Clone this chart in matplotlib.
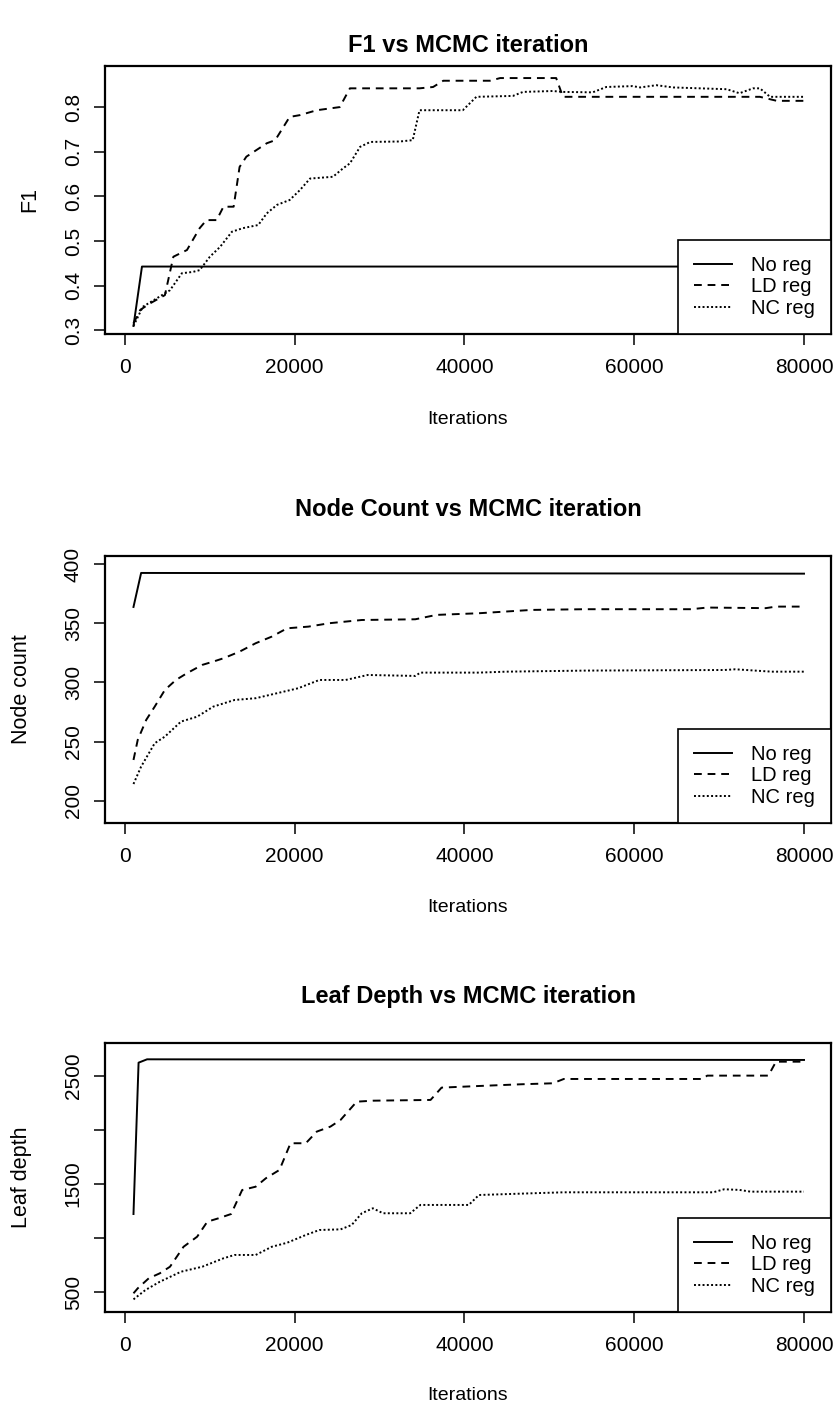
import matplotlib
matplotlib.use('Agg')
import matplotlib.pyplot as plt

plt.rcParams['font.family'] = ['Liberation Sans', 'DejaVu Sans']

# F1 vs iteration
f1_noreg_x = [1000, 2000, 80000]
f1_noreg_y = [0.31, 0.443, 0.443]
f1_ld_x = [1000, 1800, 2900, 4700, 5700, 7300, 8800, 9600, 10800, 11600, 12800, 13500, 14300,
           15500, 16700, 17700, 19400, 20600, 22600, 25300, 26500, 28500, 34700, 36300, 37500,
           43000, 44200, 50800, 51600, 74800, 76800, 80000]
f1_ld_y = [0.316, 0.346, 0.360, 0.379, 0.465, 0.480, 0.529, 0.547, 0.547, 0.577, 0.577, 0.666, 0.689,
           0.704, 0.719, 0.726, 0.778, 0.782, 0.793, 0.800, 0.842, 0.842, 0.842, 0.845, 0.859,
           0.859, 0.865, 0.865, 0.823, 0.823, 0.814, 0.814]
f1_nc_x = [1000, 2100, 4100, 5300, 6700, 8000, 8800, 10000, 11200, 12600, 13900, 15700, 16700,
           17900, 19400, 20600, 21800, 24500, 25700, 26500, 27700, 28900, 32400, 33900, 34700,
           39800, 41400, 45700, 46900, 50400, 51600, 55100, 56700, 59800, 60700, 62600, 64600,
           70900, 72400, 74000, 74800, 76000, 80000]
f1_nc_y = [0.31, 0.353, 0.376, 0.39, 0.428, 0.431, 0.435, 0.465, 0.487, 0.521, 0.529, 0.536, 0.562,
           0.581, 0.592, 0.614, 0.64, 0.644, 0.663, 0.674, 0.711, 0.722, 0.723, 0.726, 0.793,
           0.793, 0.823, 0.825, 0.834, 0.836, 0.834, 0.833, 0.845, 0.847, 0.844, 0.849, 0.844,
           0.84, 0.831, 0.842, 0.842, 0.823, 0.823]

# Node count vs iteration
nodes_noreg_x = [1000, 1900, 80000]
nodes_noreg_y = [363.7, 392.4, 391.8]
nodes_ld_x = [1000, 1500, 2500, 3500, 4700, 6000, 7300, 9100, 10400, 11600, 13500, 15400, 17300,
              19100, 21600, 24100, 27900, 34200, 36700, 41700, 47900, 54200, 66700, 68600, 75500,
              76700, 80000]
nodes_ld_y = [234.6, 251.5, 268.4, 279.6, 293.7, 302.1, 307.8, 314.8, 317.6, 320.4, 326, 333.1, 338.7,
              345.7, 347.1, 350, 352.7, 353.3, 357, 358.4, 361.2, 361.8, 361.8, 363.2, 362.7,
              364, 364]
nodes_nc_x = [1000, 1900, 3500, 4700, 6600, 8500, 10400, 12900, 15400, 17900, 20400, 22900, 26000,
              28600, 34200, 34800, 41700, 44900, 54200, 70600, 71900, 76200, 80000]
nodes_nc_y = [214.3, 229, 248.7, 254.3, 267, 271.1, 279.6, 285.2, 286.7, 290.9, 295.1, 302.1, 302.1,
              306.3, 305.5, 308.3, 308.3, 309.1, 310, 310.5, 311.1, 309.1, 309.1]

# Leaf depth vs iteration
depth_noreg_x = [1000, 1600, 2600, 80000]
depth_noreg_y = [1222, 2623, 2654, 2648]
depth_ld_x = [1000, 1500, 2800, 4100, 5300, 6900, 8500, 9700, 11000, 12500, 13800, 15400, 16600,
              18200, 19500, 21300, 22600, 24200, 25400, 27300, 29200, 36000, 37300, 41700, 46700,
              50400, 51700, 68000, 68600, 75800, 76700, 80000]
depth_ld_y = [488, 534, 627, 673, 734, 919, 1012, 1151, 1182, 1222, 1444, 1475, 1553,
              1630, 1877, 1877, 1985, 2031, 2093, 2262, 2271, 2278, 2392, 2407, 2423,
              2432, 2472, 2472, 2503, 2503, 2632, 2632]
depth_nc_x = [1000, 2400, 4100, 6600, 9100, 11600, 12900, 15400, 17300, 19100, 21300, 22900, 25400,
              26700, 27900, 29200, 30400, 33600, 34800, 40500, 41700, 48000, 51700, 69300, 70600,
              72400, 73700, 80000]
depth_nc_y = [432, 518, 595, 688, 734, 812, 843, 843, 919, 956, 1028, 1074, 1080,
              1120, 1229, 1275, 1229, 1229, 1306, 1306, 1398, 1414, 1423, 1423, 1451,
              1445, 1429, 1429]

labels = ['No reg', 'LD reg', 'NC reg']
x_ticks = [0, 20000, 40000, 60000, 80000]

W, H = 835, 1408
fig = plt.figure(figsize=(W / 100, H / 100), dpi=100)

panels = [
    dict(title='F1 vs MCMC iteration', ylabel='F1', top=66, bottom=334, title_y=46, xlab_y=420,
         ylim=(0.292, 0.892), yticks=[0.3, 0.4, 0.5, 0.6, 0.7, 0.8],
         yticklabels=['0.3', '0.4', '0.5', '0.6', '0.7', '0.8'], ylab_x=30,
         series=[(f1_noreg_x, f1_noreg_y), (f1_ld_x, f1_ld_y), (f1_nc_x, f1_nc_y)]),
    dict(title='Node Count vs MCMC iteration', ylabel='Node count', top=556, bottom=823, title_y=509,
         xlab_y=908, ylim=(181.4, 406.7), yticks=[200, 250, 300, 350, 400],
         yticklabels=['200', '250', '300', '350', '400'], ylab_x=22,
         series=[(nodes_noreg_x, nodes_noreg_y), (nodes_ld_x, nodes_ld_y), (nodes_nc_x, nodes_nc_y)]),
    dict(title='Leaf Depth vs MCMC iteration', ylabel='Leaf depth', top=1043, bottom=1312, title_y=997,
         xlab_y=1395, ylim=(315, 2805), yticks=[500, 1000, 1500, 2000, 2500],
         yticklabels=['500', '', '1500', '', '2500'], ylab_x=22,
         series=[(depth_noreg_x, depth_noreg_y), (depth_ld_x, depth_ld_y), (depth_nc_x, depth_nc_y)]),
]

styles = ['-', (0, (4, 3)), (0, (1, 1.2))]
left, right = 105, 831

for p in panels:
    ax = fig.add_axes([left / W, 1 - p['bottom'] / H, (right - left) / W, (p['bottom'] - p['top']) / H])
    for (xs, ys), ls, lab in zip(p['series'], styles, labels):
        ax.plot(xs, ys, color='black', linestyle=ls, linewidth=1.4, label=lab)
    ax.set_xlim(-2356, 83181)
    ax.set_ylim(*p['ylim'])
    ax.set_xticks(x_ticks)
    ax.set_xticklabels([str(t) for t in x_ticks])
    ax.set_yticks(p['yticks'])
    ax.set_yticklabels(p['yticklabels'], rotation=90, va='center')
    ax.tick_params(axis='both', labelsize=15, length=8, width=1.1, direction='out', color='black')
    ax.tick_params(axis='x', pad=9)
    ax.tick_params(axis='y', pad=8)
    for s in ax.spines.values():
        s.set_linewidth(1.6)
    leg = ax.legend(loc='lower right', borderaxespad=0, fontsize=14.5, handlelength=1.9,
                    handletextpad=0.95, labelspacing=0.12, borderpad=0.8, fancybox=False,
                    framealpha=1, edgecolor='black')
    leg.get_frame().set_linewidth(1.2)
    fig.text(468 / W, 1 - p['title_y'] / H, p['title'], ha='center', va='center',
             fontsize=17, fontweight='bold')
    fig.text(468 / W, 1 - p['xlab_y'] / H, 'Iterations', ha='center', va='center', fontsize=14)
    mid = (p['top'] + p['bottom']) / 2
    fig.text(p['ylab_x'] / W, 1 - mid / H, p['ylabel'], ha='center', va='center',
             rotation=90, fontsize=15.5)

fig.savefig('out.png', dpi=100)
